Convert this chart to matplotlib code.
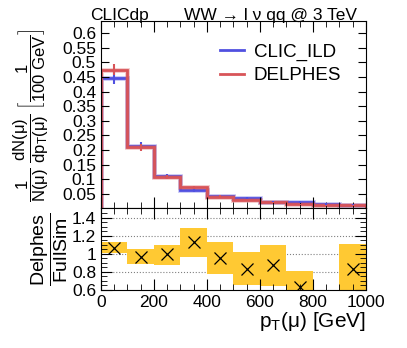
import numpy as np
import matplotlib
matplotlib.use("Agg")
import matplotlib.pyplot as plt

plt.rcParams["font.family"] = ["Liberation Sans", "DejaVu Sans"]
plt.rcParams["mathtext.fontset"] = "custom"
plt.rcParams["mathtext.rm"] = "Liberation Sans"
plt.rcParams["mathtext.it"] = "Liberation Sans:italic"
plt.rcParams["mathtext.sf"] = "Liberation Sans"

# bin edges in pT(mu) [GeV]
edges = [0, 100, 200, 300, 400, 500, 600, 700, 800, 900, 1000]
centers = [50, 150, 250, 350, 450, 550, 650, 750, 850, 950]

# normalised distributions
clic_ild = [0.446, 0.215, 0.110, 0.064, 0.042, 0.035, 0.0235, 0.023, 0.015, 0.0125]
clic_ild_err = [0.021, 0.012, 0.008, 0.006, 0.004, 0.004, 0.003, 0.003, 0.003, 0.002]
delphes = [0.475, 0.209, 0.108, 0.072, 0.041, 0.029, 0.0205, 0.0145, 0.011, 0.0104]
delphes_err = [0.019, 0.011, 0.007, 0.006, 0.004, 0.003, 0.003, 0.002, 0.002, 0.002]

# ratio Delphes / FullSim with uncertainty band
ratio = [1.066, 0.967, 0.993, 1.13, 0.95, 0.83, 0.875, 0.63, np.nan, 0.83]
band_lo = [1.004, 0.886, 0.875, 0.967, 0.776, 0.655, 0.644, 0.55, np.nan, 0.55]
band_hi = [1.125, 1.05, 1.10, 1.29, 1.13, 1.015, 1.096, 0.81, np.nan, 1.11]

blue = "#5050e0"
red = "#d85458"
gold = "#ffc933"

fig = plt.figure(figsize=(4.07, 3.48), dpi=100)
ax = fig.add_axes([0.248, 0.4009, 0.651, 0.5388])
axr = fig.add_axes([0.248, 0.1667, 0.651, 0.2342])

# top panel
for vals, errs, col in [(clic_ild, clic_ild_err, blue), (delphes, delphes_err, red)]:
    ax.stairs(vals, edges, color=col, lw=3.5, alpha=0.3)
    ax.stairs(vals, edges, color=col, lw=2)
    ax.errorbar(centers, vals, yerr=errs, fmt="none", ecolor=col, elinewidth=1.5)

ax.plot([], [], color=blue, lw=2, label="CLIC_ILD")
ax.plot([], [], color=red, lw=2, label="DELPHES")
ax.legend(loc="upper right", bbox_to_anchor=(0.97, 0.97), frameon=False,
          fontsize=13.5, handlelength=1.3, handletextpad=0.5, labelspacing=0.35)

ax.set_xlim(0, 1000)
ax.set_ylim(0, 0.642)
ax.set_yticks(np.arange(0.05, 0.61, 0.05))
ax.set_yticklabels(["0.05", "0.1", "0.15", "0.2", "0.25", "0.3", "0.35",
                    "0.4", "0.45", "0.5", "0.55", "0.6"])
ax.set_xticks(range(0, 1001, 200))
ax.set_xticks(range(0, 1001, 50), minor=True)
ax.tick_params(axis="x", labelbottom=False)
ax.set_ylabel(r"$\dfrac{1}{\mathrm{N(\mu)}}\ \dfrac{\mathrm{dN(\mu)}}{\mathrm{dp_{T}(\mu)}}\ \left[\dfrac{1}{\mathrm{100\ GeV}}\right]$",
              fontsize=12, labelpad=8)

# ratio panel
for i in range(len(centers)):
    if np.isnan(ratio[i]):
        continue
    axr.fill_between([edges[i], edges[i + 1]], band_lo[i], band_hi[i],
                     color=gold, lw=0)
axr.plot(centers, ratio, "x", color="black", ms=9, mew=0.9)
for yv in [0.8, 1.0, 1.2, 1.4]:
    axr.axhline(yv, color="gray", ls=":", lw=0.8, zorder=0)

axr.set_xlim(0, 1000)
axr.set_ylim(0.6, 1.5)
axr.set_yticks([0.6, 0.8, 1.0, 1.2, 1.4])
axr.set_yticklabels(["0.6", "0.8", "1", "1.2", "1.4"])
axr.set_yticks(np.arange(0.6, 1.5, 0.05), minor=True)
axr.set_xticks(range(0, 1001, 200))
axr.set_xticks(range(0, 1001, 50), minor=True)
axr.set_ylabel(r"$\dfrac{\mathrm{Delphes}}{\mathrm{FullSim}}$", fontsize=14, labelpad=1)
axr.set_xlabel(r"$\mathrm{p_{T}(\mu)\ [GeV]}$", fontsize=15, loc="right", labelpad=0)

for a in (ax, axr):
    a.tick_params(which="both", direction="in", top=True, right=True, labelsize=12.5)
    a.tick_params(which="major", length=8)
    a.tick_params(which="minor", length=4)
    for s in a.spines.values():
        s.set_linewidth(0.8)
ax.tick_params(axis="y", which="minor", left=False, right=False)
ax.tick_params(axis="y", which="major", length=6)

fig.text(0.221, 0.943, "CLICdp", fontsize=12.5, ha="left", va="baseline")
fig.text(0.877, 0.943, "WW \u2192 l \u03bd qq @ 3 TeV", fontsize=12.5,
         ha="right", va="baseline")

fig.savefig("out.png", dpi=100)
